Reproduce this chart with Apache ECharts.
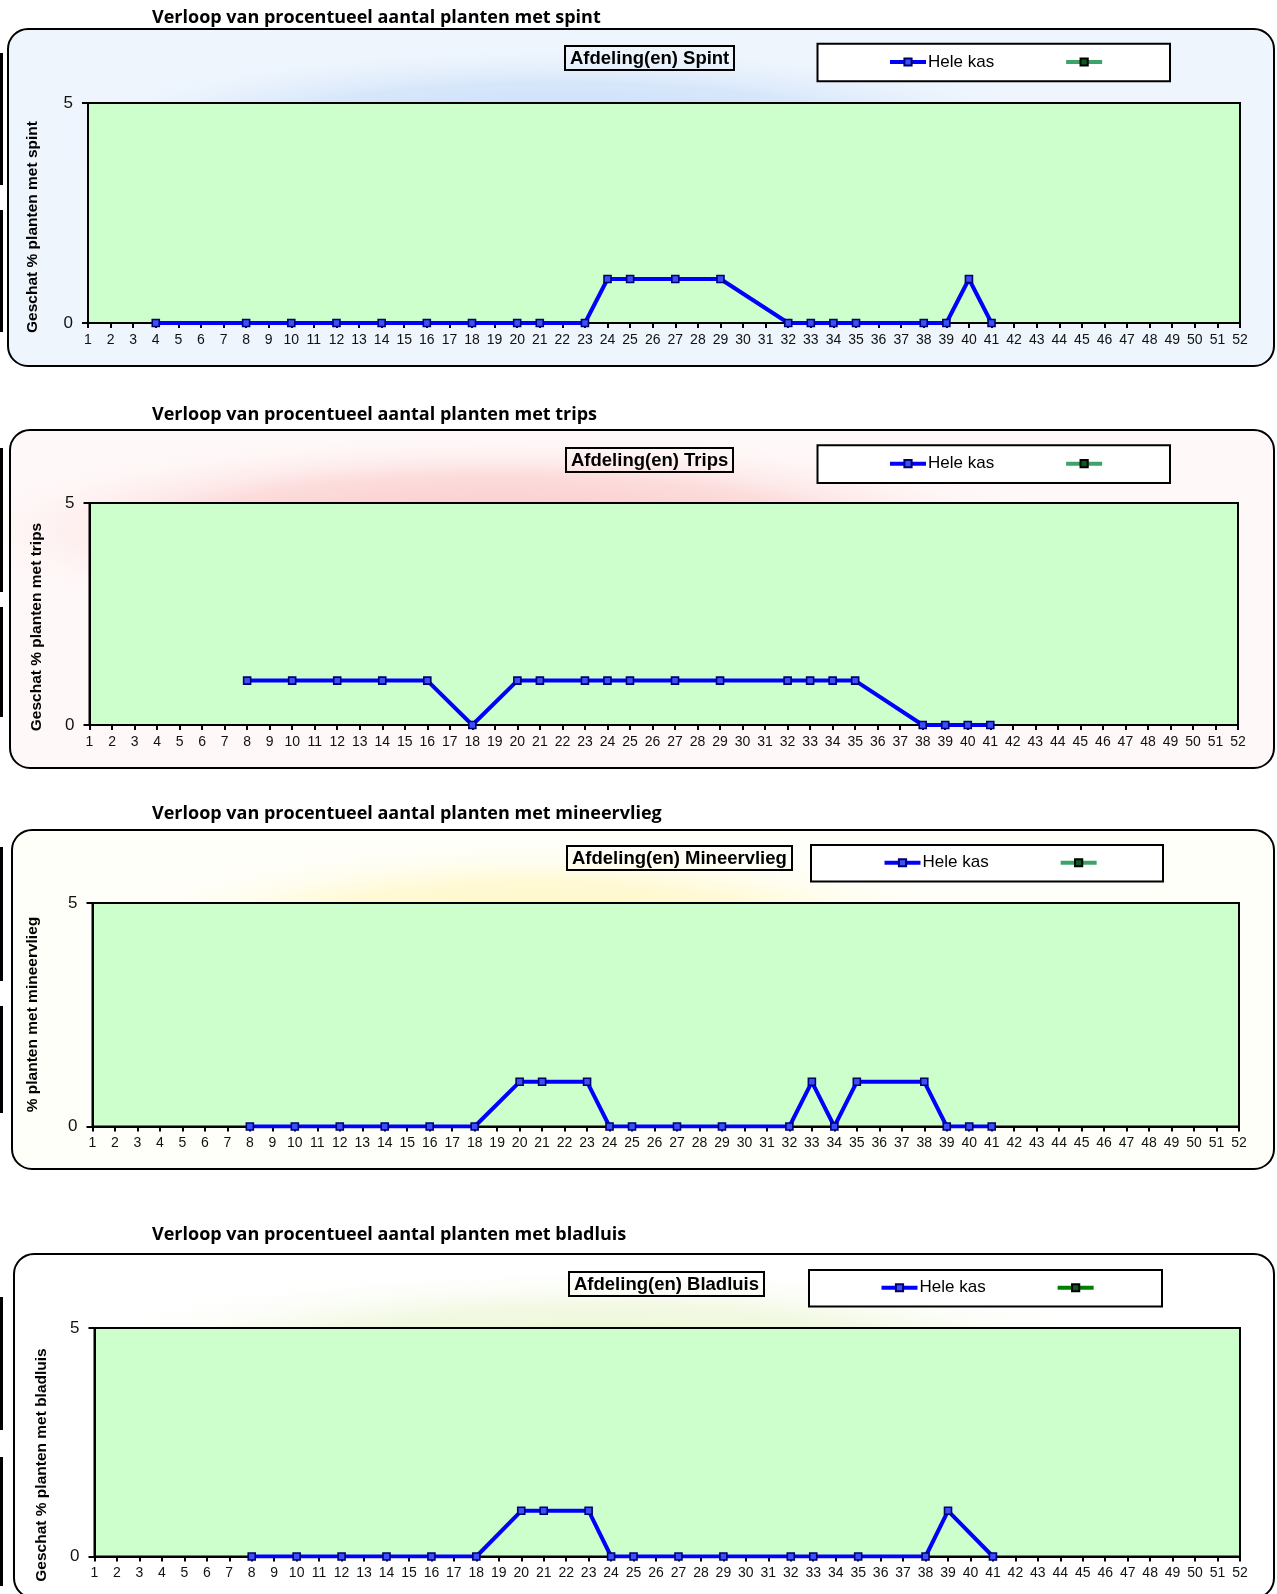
<!DOCTYPE html>
<html>
<head>
<meta charset="utf-8">
<script src="https://cdn.jsdelivr.net/npm/echarts@6/dist/echarts.min.js"></script>
<style>
html,body{margin:0;padding:0;background:#fff;}
#c{width:1277px;height:1594px;}
</style>
</head>
<body>
<div id="c"></div>
<script>
// ---- data ----
const weekLabels = ['1','2','3','4','5','6','7','8','9','10','11','12','13','14','15','16','17','18','19','20','21','22','23','24','25','26','27','28','29','30','31','32','33','34','35','36','37','38','39','40','41','42','43','44','45','46','47','48','49','50','51','52'];
const yTicks = [0, 5];

const spintWeeks  = [4,8,10,12,14,16,18,20,21,23,24,25,27,29,32,33,34,35,38,39,40,41];
const spintValues = [0,0,0,0,0,0,0,0,0,0,1,1,1,1,0,0,0,0,0,0,1,0];

const tripsWeeks  = [8,10,12,14,16,18,20,21,23,24,25,27,29,32,33,34,35,38,39,40,41];
const tripsValues = [1,1,1,1,1,0,1,1,1,1,1,1,1,1,1,1,1,0,0,0,0];

const mineerWeeks  = [8,10,12,14,16,18,20,21,23,24,25,27,29,32,33,34,35,38,39,40,41];
const mineerValues = [0,0,0,0,0,0,1,1,1,0,0,0,0,0,1,0,1,1,0,0,0];

const bladWeeks  = [8,10,12,14,16,18,20,21,23,24,25,27,29,32,33,35,38,39,41];
const bladValues = [0,0,0,0,0,0,1,1,1,0,0,0,0,0,0,0,0,1,0];

const titles = [
  'Verloop van procentueel aantal planten met spint',
  'Verloop van procentueel aantal planten met trips',
  'Verloop van procentueel aantal planten met mineervlieg',
  'Verloop van procentueel aantal planten met bladluis'
];
const afdelingen = ['Afdeling(en) Spint','Afdeling(en) Trips','Afdeling(en) Mineervlieg','Afdeling(en) Bladluis'];
const yNames = ['Geschat % planten met spint','Geschat % planten met trips','% planten met mineervlieg','Geschat % planten met bladluis'];
const seriesName = 'Hele kas';

// ---- layout ----
const FONT = 'Arial, "Liberation Sans", sans-serif';
const panels = [
  {grid:{left:88, top:103, width:1152, height:220}, title:{x:152, y:21}, afd:{x:565, y:46}, leg:{x:817.5, y:43.7, w:352.5, h:37.6, ix:888}, ytitle:{x:33, y:227},
   box:{x:8, y:29, w:1266, h:337}, base:'#eef5fd', glow:{cx:560, cy:140, rx:580, ry:105, c:'rgba(192,217,248,0.9)'}, bars:[[53,185],[210,332]]},
  {grid:{left:89.5, top:503, width:1148.5, height:222}, title:{x:152, y:418}, afd:{x:566, y:448}, leg:{x:817.5, y:445.3, w:352.5, h:37.7, ix:888}, ytitle:{x:36.6, y:627},
   box:{x:10, y:430, w:1264, h:338}, base:'#fff8f8', glow:{cx:500, cy:530, rx:580, ry:100, c:'rgba(250,192,192,0.9)'}, bars:[[448,592],[607,717]]},
  {grid:{left:92.5, top:903, width:1146.5, height:223.5}, title:{x:152, y:817}, afd:{x:567, y:846}, leg:{x:811, y:845, w:352, h:36.5, ix:882.5}, ytitle:{x:33, y:1014.5},
   box:{x:12, y:830, w:1262, h:339}, base:'#fffffa', glow:{cx:540, cy:935, rx:470, ry:100, c:'rgba(255,245,180,0.95)'}, bars:[[847,981],[1006,1113]]},
  {grid:{left:94.5, top:1328, width:1145.5, height:228.5}, title:{x:152, y:1238}, afd:{x:569, y:1272}, leg:{x:809, y:1270, w:353, h:36.5, ix:879.5}, ytitle:{x:41.7, y:1465},
   box:{x:14, y:1254, w:1260, h:344}, base:'#ffffff', glow:{cx:600, cy:1355, rx:560, ry:90, c:'rgba(230,243,200,0.9)'}, bars:[[1297,1430],[1457,1586]]}
];

const dataSets = [
  [spintWeeks, spintValues],
  [tripsWeeks, tripsValues],
  [mineerWeeks, mineerValues],
  [bladWeeks, bladValues]
];

const grid = [], xAxis = [], yAxis = [], series = [], legend = [], title = [], graphic = [];

panels.forEach((p, i) => {
  grid.push(Object.assign({show:true, backgroundColor:'#ccffcc', borderColor:'#000', borderWidth:2, containLabel:false}, p.grid));
  xAxis.push({
    type:'category', gridIndex:i, data:weekLabels, boundaryGap:false,
    axisLine:{show:true, lineStyle:{color:'#000', width:2}},
    axisTick:{show:true, interval:0, length:5, lineStyle:{color:'#000', width:2}},
    axisLabel:{interval:0, fontSize:14, fontFamily:FONT, color:'#111', margin:10},
    splitLine:{show:false}
  });
  yAxis.push({
    type:'value', gridIndex:i, min:yTicks[0], max:yTicks[1], interval:yTicks[1]-yTicks[0],
    axisLine:{show:true, lineStyle:{color:'#000', width:2}},
    axisTick:{show:true, length:6, lineStyle:{color:'#000', width:2}},
    axisLabel:{fontSize:17, fontFamily:FONT, color:'#111', margin:15},
    splitLine:{show:false}
  });
  const [wk, vals] = dataSets[i];
  series.push({
    type:'line', name:seriesName, xAxisIndex:i, yAxisIndex:i,
    data: wk.map((w, k) => [String(w), vals[k]]),
    symbol:'rect', symbolSize:7, showSymbol:true, showAllSymbol:true,
    lineStyle:{color:'#0000ff', width:4},
    itemStyle:{color:'#3a50ff', borderColor:'#00006a', borderWidth:1.6},
    z:3, animation:false
  });
  const greenName = i === 3 ? '\u00a0\u00a0' : '\u00a0';
  legend.push({
    data:[seriesName, greenName], left:p.leg.ix, top:p.leg.y + p.leg.h/2 - 9,
    itemWidth:36, itemHeight:9, itemGap:70, padding:0, selectedMode:false,
    lineStyle:{width:4},
    textStyle:{fontSize:17, fontFamily:FONT, color:'#000', padding:[0,0,0,-3]}
  });
  title.push({
    text:titles[i], left:p.title.x, top:p.title.y - 12, padding:0,
    textStyle:{fontFamily:'"Open Sans", Lato, sans-serif', fontWeight:'bold', fontSize:18, color:'#000'}
  });
  title.push({
    text:afdelingen[i], left:p.afd.x, top:p.afd.y, padding:[3,5,2,5],
    borderColor:'#000', borderWidth:2,
    textStyle:{fontFamily:FONT, fontWeight:'bold', fontSize:18.5, color:'#000'}
  });
  // panel background + glow
  graphic.push({type:'rect', z:-20, silent:true, shape:{x:p.box.x, y:p.box.y, width:p.box.w, height:p.box.h, r:20}, style:{fill:p.base}});
  graphic.push({type:'circle', z:-19, silent:true, x:p.glow.cx, y:p.glow.cy, scaleX:p.glow.rx/100, scaleY:p.glow.ry/100,
    shape:{cx:0, cy:0, r:100},
    style:{fill:{type:'radial', x:0.5, y:0.5, r:0.5, colorStops:[{offset:0, color:p.glow.c},{offset:0.55, color:p.glow.c.replace(/[\d.]+\)$/, '0.5)')},{offset:1, color:'rgba(255,255,255,0)'}]}}});
  graphic.push({type:'rect', z:50, silent:true, shape:{x:p.box.x, y:p.box.y, width:p.box.w, height:p.box.h, r:20}, style:{fill:'none', stroke:'#000', lineWidth:2}});
  // legend box
  graphic.push({type:'rect', z:-5, silent:true, shape:{x:p.leg.x, y:p.leg.y, width:p.leg.w, height:p.leg.h}, style:{fill:'#fff', stroke:'#000', lineWidth:2}});
  // y axis title
  graphic.push({type:'text', z:10, silent:true, x:p.ytitle.x, y:p.ytitle.y, rotation:Math.PI/2,
    style:{text:yNames[i], font:'bold 15.5px ' + FONT, fill:'#000', textAlign:'center', textVerticalAlign:'middle', align:'center', verticalAlign:'middle'}});
  // left edge bars
  p.bars.forEach(b => graphic.push({type:'rect', z:10, silent:true, shape:{x:0, y:b[0], width:3, height:b[1]-b[0]}, style:{fill:'#000'}}));
});

// green (empty) legend series
series.push({type:'line', name:'\u00a0', xAxisIndex:0, yAxisIndex:0, data:[], symbol:'rect', symbolSize:7,
  lineStyle:{color:'#3ca36a', width:4}, itemStyle:{color:'#0a5a20', borderColor:'#000', borderWidth:1.5}});
series.push({type:'line', name:'\u00a0\u00a0', xAxisIndex:3, yAxisIndex:3, data:[], symbol:'rect', symbolSize:7,
  lineStyle:{color:'#008000', width:4}, itemStyle:{color:'#0a5a20', borderColor:'#000', borderWidth:1.5}});

const chart = echarts.init(document.getElementById('c'), null, {renderer:'canvas'});
chart.setOption({animation:false, backgroundColor:'#fff', title, legend, grid, xAxis, yAxis, series, graphic});
</script>
</body>
</html>
